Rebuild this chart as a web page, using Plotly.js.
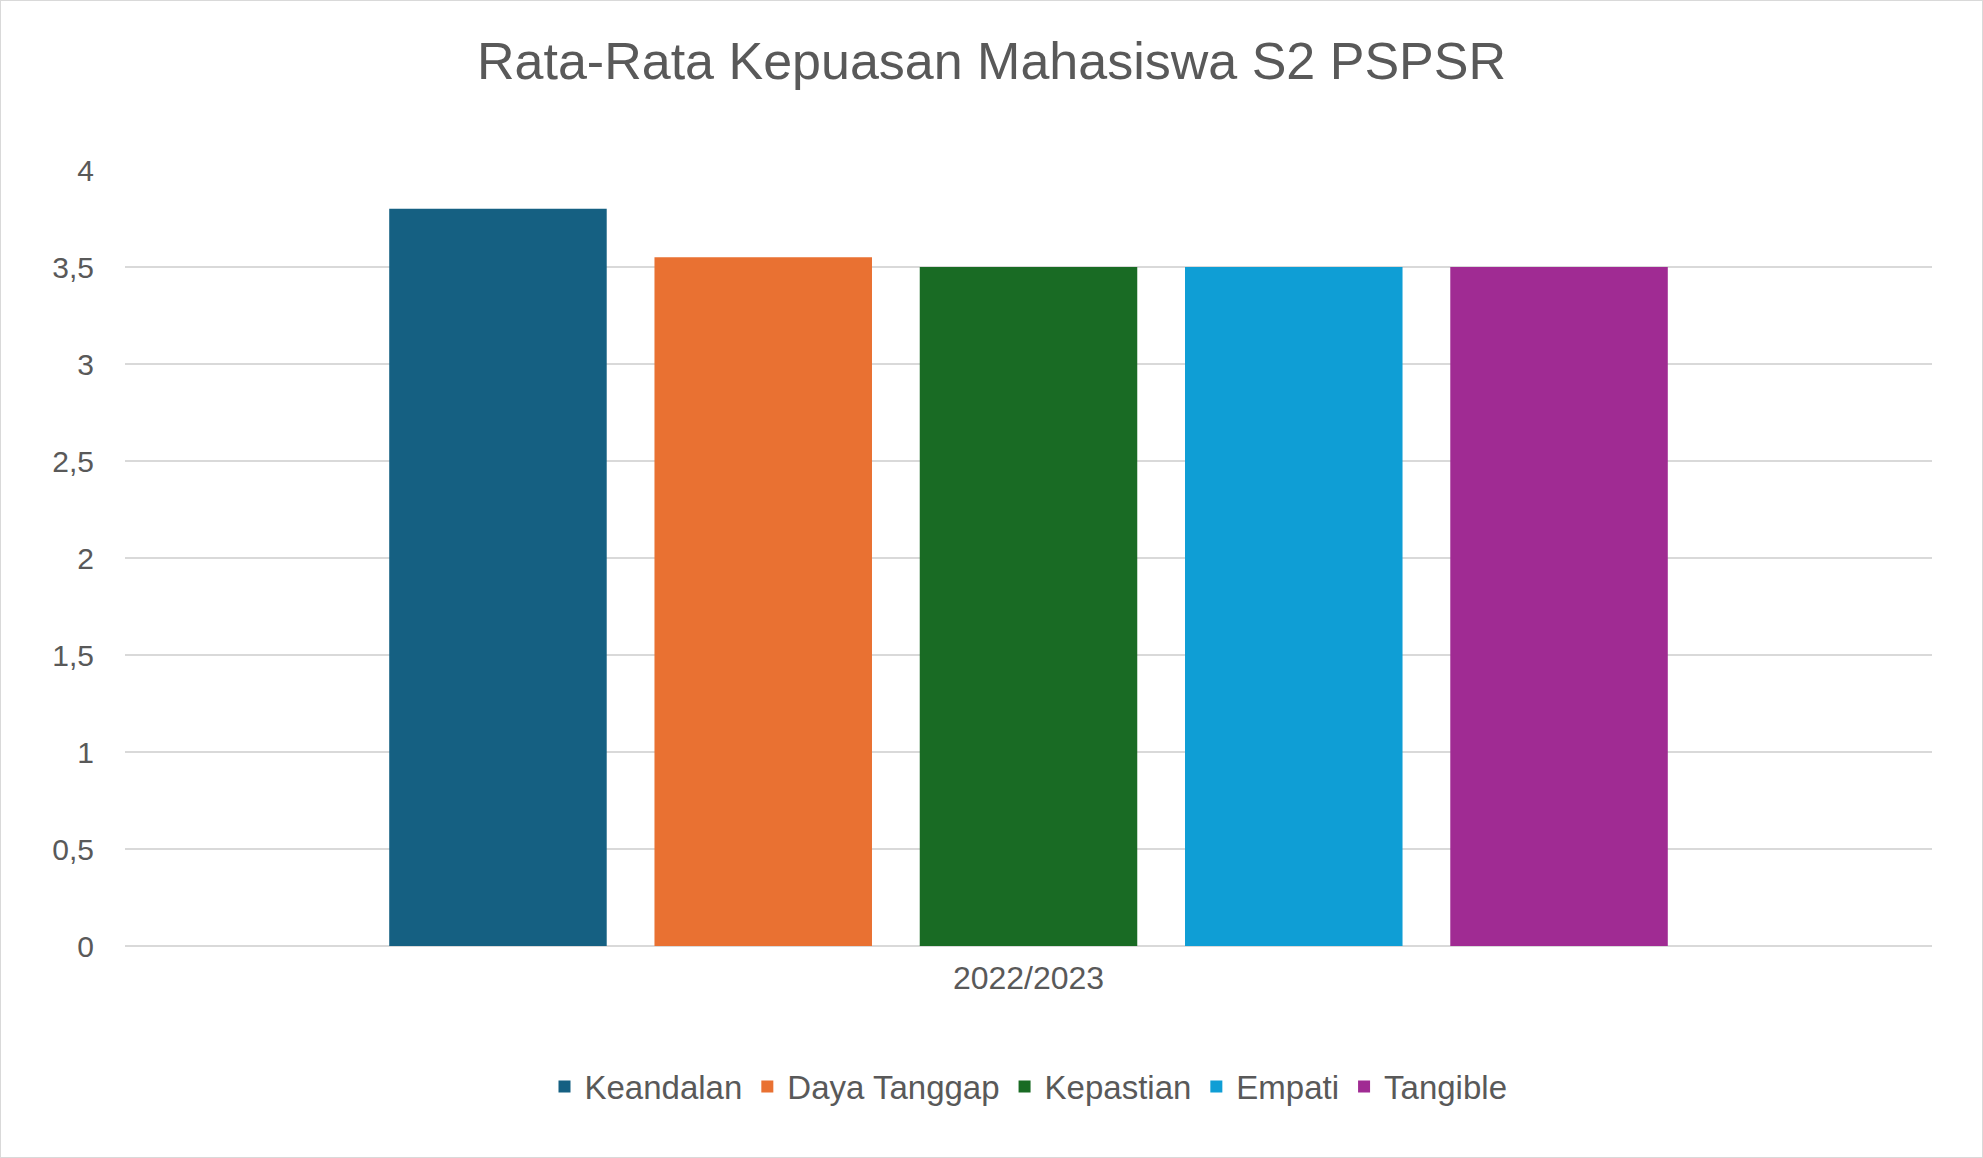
<!DOCTYPE html>
<html>
<head>
<meta charset="utf-8">
<script src="https://cdn.plot.ly/plotly-3.0.1.min.js"></script>
<style>
html, body { margin: 0; padding: 0; background: #fff; }
#chart { width: 1981px; height: 1156px; border: 1px solid #d9d9d9; }
</style>
</head>
<body>
<div id="chart"></div>
<script>
const categories = ["2022/2023"];
const seriesNames = ["Keandalan", "Daya Tanggap", "Kepastian", "Empati", "Tangible"];
const seriesValues = [3.8, 3.55, 3.5, 3.5, 3.5];
const seriesColors = ["#156082", "#E97132", "#196B24", "#0F9ED5", "#A02B93"];

const data = seriesNames.map((name, i) => ({
  type: "bar",
  name: name,
  x: categories,
  y: [seriesValues[i]],
  marker: { color: seriesColors[i] },
  hoverinfo: "name+y"
}));

const layout = {
  width: 1981, height: 1156,
  separators: ", ",
  font: { family: "Liberation Sans, Arial, sans-serif", color: "#595959", size: 30 },
  title: { text: "Rata-Rata Kepuasan Mahasiswa S2 PSPSR", font: { size: 52, color: "#595959" }, x: 0.5, y: 0.948, yanchor: "middle" },
  margin: { l: 124, r: 50, t: 169, b: 211 },
  barmode: "group",
  bargap: 0.266,
  bargroupgap: 0.18,
  xaxis: { showline: false, ticks: "", tickfont: { size: 32 }, ticklabelstandoff: 10 },
  yaxis: {
    range: [0, 4], dtick: 0.5, gridcolor: "#d9d9d9", gridwidth: 2,
    zeroline: true, zerolinecolor: "#d9d9d9", zerolinewidth: 2,
    tickfont: { size: 30 }, ticklabelstandoff: 30
  },
  legend: {
    orientation: "h", x: 0.5, xanchor: "center", y: -0.145, yanchor: "top",
    font: { size: 33, color: "#595959" }, itemwidth: 30
  },
  plot_bgcolor: "#fff", paper_bgcolor: "#fff"
};

Plotly.newPlot("chart", data, layout, { displayModeBar: false });
</script>
</body>
</html>
